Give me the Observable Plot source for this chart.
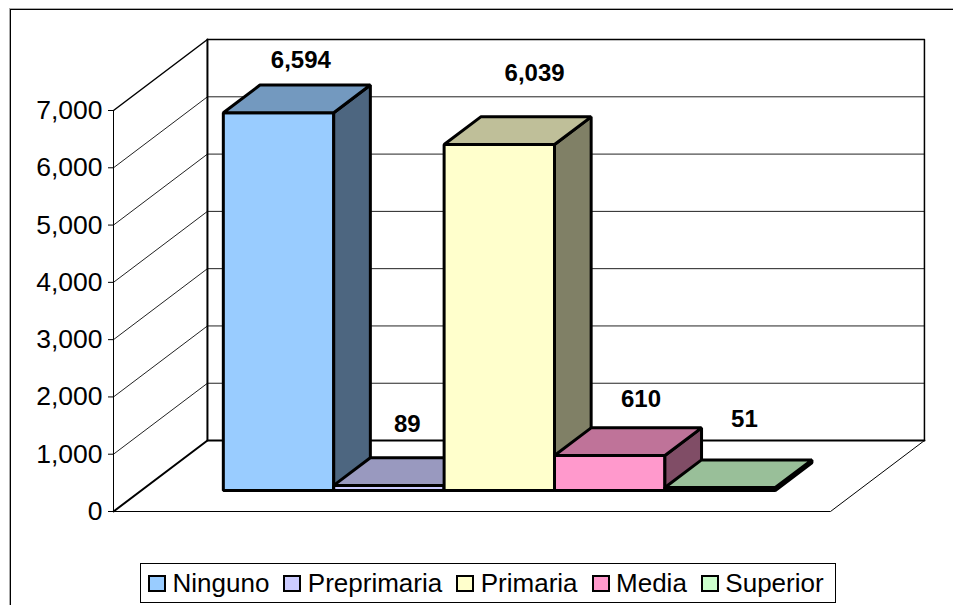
<!DOCTYPE html>
<html>
<head>
<meta charset="utf-8">
<script src="https://cdn.jsdelivr.net/npm/d3@7"></script>
<script src="https://cdn.jsdelivr.net/npm/@observablehq/plot@0.6"></script>
<style>
  html, body { margin: 0; padding: 0; background: #fff; }
  #page { position: relative; width: 953px; height: 605px; overflow: hidden; font-family: "Liberation Sans", Arial, sans-serif; color: #000; }
  #frame { position: absolute; left: 10px; top: 9px; right: -5px; bottom: -5px; border-top: 1px solid #000; border-left: 1px solid #000; box-shadow: -1px -1px 0 #aaa; }
  #chart { position: absolute; left: 0; top: 0; }
  #legend { position: absolute; left: 140px; top: 563px; height: 38px; width: 687px; border: 1px solid #000; background: #fff; display: flex; align-items: center; padding-left: 7px; gap: 14px; font-size: 26px; }
  .item { display: flex; align-items: center; gap: 6.5px; white-space: nowrap; }
  .swatch { width: 14px; height: 13px; border: 2px solid #000; display: inline-block; }
</style>
</head>
<body>
<div id="page">
  <div id="frame"></div>
  <div id="chart"></div>
  <div id="legend"></div>
</div>
<script>
const categories = ["Ninguno", "Preprimaria", "Primaria", "Media", "Superior"];
const values = [6594, 89, 6039, 610, 51];
const valueLabels = ["6,594", "89", "6,039", "610", "51"];
const yTicks = [0, 1000, 2000, 3000, 4000, 5000, 6000, 7000];

const frontColors = ["#99CCFF", "#CCCCFF", "#FFFFCC", "#FF99CC", "#CCFFCC"];
const topColors = ["#7399BF", "#9999BF", "#BFBF99", "#BF7399", "#99BF99"];
const sideColors = ["#4D6680", "#666680", "#808066", "#804D66", "#668066"];

// Oblique projection: a depth of 1 (front of floor to back wall) shifts by these data units.
const depthX = 0.851, depthV = 1239;
const barFront = 0.296, barBack = 0.686;
const wallLeft = -0.743, wallRight = 5.752, maxV = 7000;
const P = (x, v, d) => ({x: x + d * depthX, y: v + d * depthV});

// Label nudges (px) as placed in the original chart.
const labelDx = [4, 0, 17, 13, 6];
const labelDy = [-17, -26, -36, -21, -33];

const faces = values.flatMap((v, i) => [
  [P(i, 0, barFront), P(i + 1, 0, barFront), P(i + 1, v, barFront), P(i, v, barFront)].map(p => ({...p, id: `f${i}`, fill: frontColors[i]})),
  [P(i + 1, 0, barFront), P(i + 1, v, barFront), P(i + 1, v, barBack), P(i + 1, 0, barBack)].map(p => ({...p, id: `s${i}`, fill: sideColors[i]})),
  [P(i, v, barFront), P(i + 1, v, barFront), P(i + 1, v, barBack), P(i, v, barBack)].map(p => ({...p, id: `t${i}`, fill: topColors[i]}))
]).flat();

// Gridlines run along the left side wall then along the back wall.
const gridlines = yTicks.slice(1, -1).flatMap(v => [
  {...P(wallLeft, v, 0), id: v}, {...P(wallLeft, v, 1), id: v}, {...P(wallRight, v, 1), id: v}
]);

const lineOf = (pts, opts) => Plot.line(pts, {x: "x", y: "y", ...opts});

const labels = values.map((v, i) => Plot.text([{
  x: P(i + 0.5, v, (barFront + barBack) / 2).x,
  y: P(i + 0.5, v, barBack).y,
  t: valueLabels[i]
}], {
  x: "x", y: "y", text: "t",
  dx: labelDx[i], dy: labelDy[i], lineAnchor: "bottom",
  fontSize: 24, fontWeight: "bold", fill: "#000",
  fontFamily: "Liberation Sans"
}));

const chart = Plot.plot({
  width: 953,
  height: 560,
  marginLeft: 113,
  marginRight: 123,
  marginTop: 110,
  marginBottom: 49,
  style: {background: "transparent", overflow: "visible", color: "#000"},
  x: {domain: [wallLeft, wallRight], axis: null},
  y: {domain: [0, maxV], axis: null},
  marks: [
    lineOf(gridlines, {z: "id", stroke: "#222", strokeWidth: 1}),
    // side wall top edge + back wall top edge
    lineOf([P(wallLeft, maxV, 0), P(wallLeft, maxV, 1), P(wallRight, maxV, 1), P(wallRight, 0, 1)], {stroke: "#000", strokeWidth: 1.5}),
    // back wall left edge
    lineOf([P(wallLeft, maxV, 1), P(wallLeft, 0, 1)], {stroke: "#000", strokeWidth: 2}),
    // floor back edge and left edge
    lineOf([P(wallLeft, 0, 0), P(wallLeft, 0, 1), P(wallRight, 0, 1)], {stroke: "#000", strokeWidth: 2}),
    // floor front and right edges, left axis line
    lineOf([P(wallLeft, maxV, 0), P(wallLeft, 0, 0), P(wallRight, 0, 0), P(wallRight, 0, 1)], {stroke: "#000", strokeWidth: 1}),
    Plot.axisY({
      ticks: yTicks, tickFormat: d3.format(","), anchor: "left", label: null,
      tickSize: 5, tickPadding: 6, fontSize: 26.5, stroke: "#000",
      fill: "#000", fontFamily: "Liberation Sans", x: wallLeft
    }),
    lineOf(faces, {z: "id", fill: "fill", stroke: "#000", strokeWidth: 3, curve: "linear-closed", strokeLinejoin: "miter"}),
    ...labels
  ]
});
document.getElementById("chart").appendChild(chart);

const legend = document.getElementById("legend");
categories.forEach((c, i) => {
  const item = document.createElement("div");
  item.className = "item";
  const sw = document.createElement("span");
  sw.className = "swatch";
  sw.style.background = frontColors[i];
  const t = document.createElement("span");
  t.textContent = c;
  item.append(sw, t);
  legend.append(item);
});
</script>
</body>
</html>
